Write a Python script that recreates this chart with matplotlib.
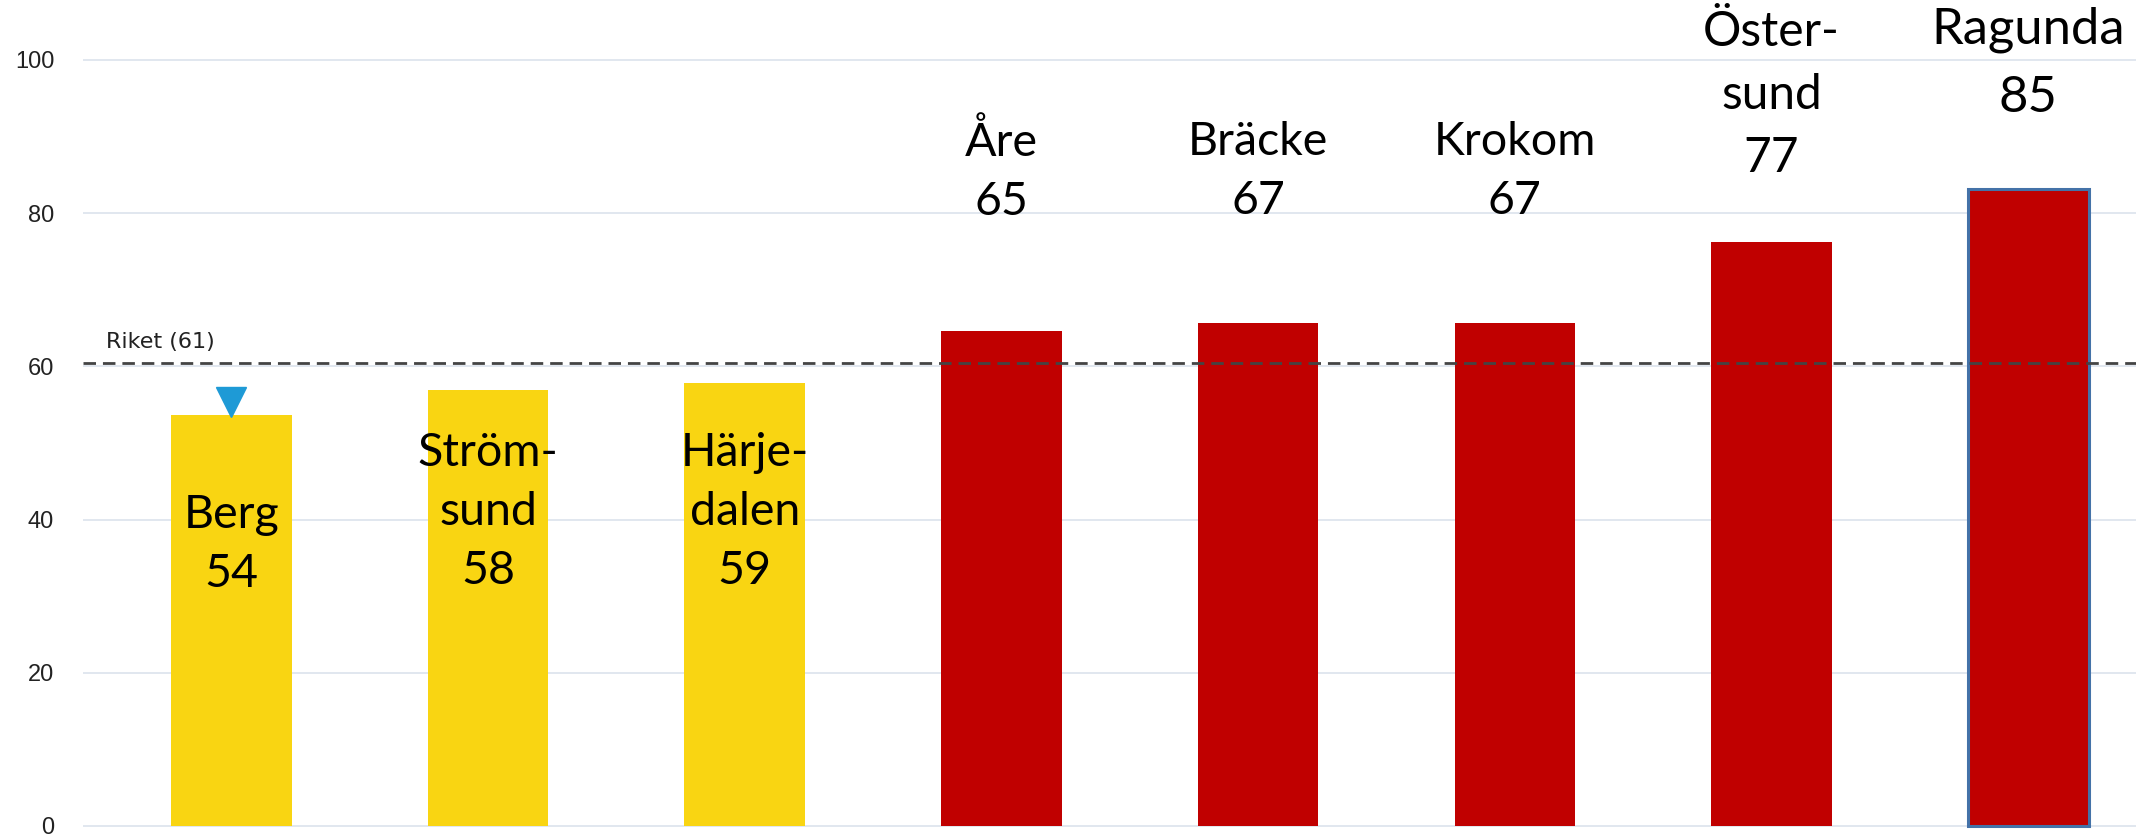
import numpy as np
import matplotlib
matplotlib.use("Agg")
import matplotlib.pyplot as plt
import matplotlib.transforms as mtransforms

# === Data ===
kommuner = ["Berg", "Strömsund", "Härjedalen", "Åre", "Bräcke", "Krokom", "Östersund", "Ragunda"]
etiketter = ["Berg\n54", "Ström-\nsund\n58", "Härje-\ndalen\n59", "Åre\n65", "Bräcke\n67",
             "Krokom\n67", "Öster-\nsund\n77", "Ragunda\n85"]
staplar = [53.6, 56.9, 57.8, 64.6, 65.7, 65.7, 76.2, 83.1]
farg_grupp = ["gul", "gul", "gul", "rod", "rod", "rod", "rod", "rod"]
riket = 60.5
riket_text = "Riket (61)"
y_ticks = [0, 20, 40, 60, 80, 100]

# label placement (value units), sizes and line spacing
label_y = [36.8, 41.0, 41.0, 85.4, 85.4, 85.4, 95.4, 99.5]
label_size = [33.5, 33.5, 33.5, 33.5, 33.5, 33.5, 34.5, 36.5]
label_ls = [1.5, 1.5, 1.5, 1.5, 1.5, 1.5, 1.53, 1.6]

colors = {"gul": "#F9D512", "rod": "#C00000"}

# === Plot ===
fig = plt.figure(figsize=(21.36, 8.38), dpi=100)
ax = fig.add_axes([0.039, 0.0, 0.961, 1.0])
x = np.arange(len(kommuner))

ax.set_xlim(-0.577, 7.42)
ax.set_ylim(-1.57, 107.83)

for yt in y_ticks:
    ax.axhline(yt, color="#dce3ec", linewidth=1.2, zorder=0)

bars = ax.bar(x, staplar, width=0.47, color=[colors[g] for g in farg_grupp], zorder=2)
# Ragunda is drawn with a blue frame
bars[-1].set_edgecolor("#4472A8")
bars[-1].set_linewidth(2.2)

ax.axhline(riket, color="#444444", linestyle=(0, (4.5, 2.5)), linewidth=2, zorder=3)
ax.text(-0.49, riket + 1.9, riket_text, fontsize=16, color="#222222",
        family="DejaVu Sans", va="baseline", ha="left")

# blue marker above Berg
off = mtransforms.ScaledTranslation(0, 13 / 100, fig.dpi_scale_trans)
ax.plot([x[0]], [staplar[0]], marker="v", markersize=21, color="#1E9AD6",
        transform=ax.transData + off, zorder=4, linestyle="none")

for xi, lab, ly, fs, ls in zip(x, etiketter, label_y, label_size, label_ls):
    ax.text(xi, ly, lab, ha="center", va="center", fontsize=fs, family="Lato",
            linespacing=ls, color="black", zorder=5)

ax.set_yticks(y_ticks)
ax.set_yticklabels([str(t) for t in y_ticks], family="Liberation Sans")
ax.tick_params(axis="y", length=0, pad=21, labelsize=17, labelcolor="#222222")
ax.set_xticks([])
for s in ax.spines.values():
    s.set_visible(False)

fig.savefig("out.png", dpi=100)
